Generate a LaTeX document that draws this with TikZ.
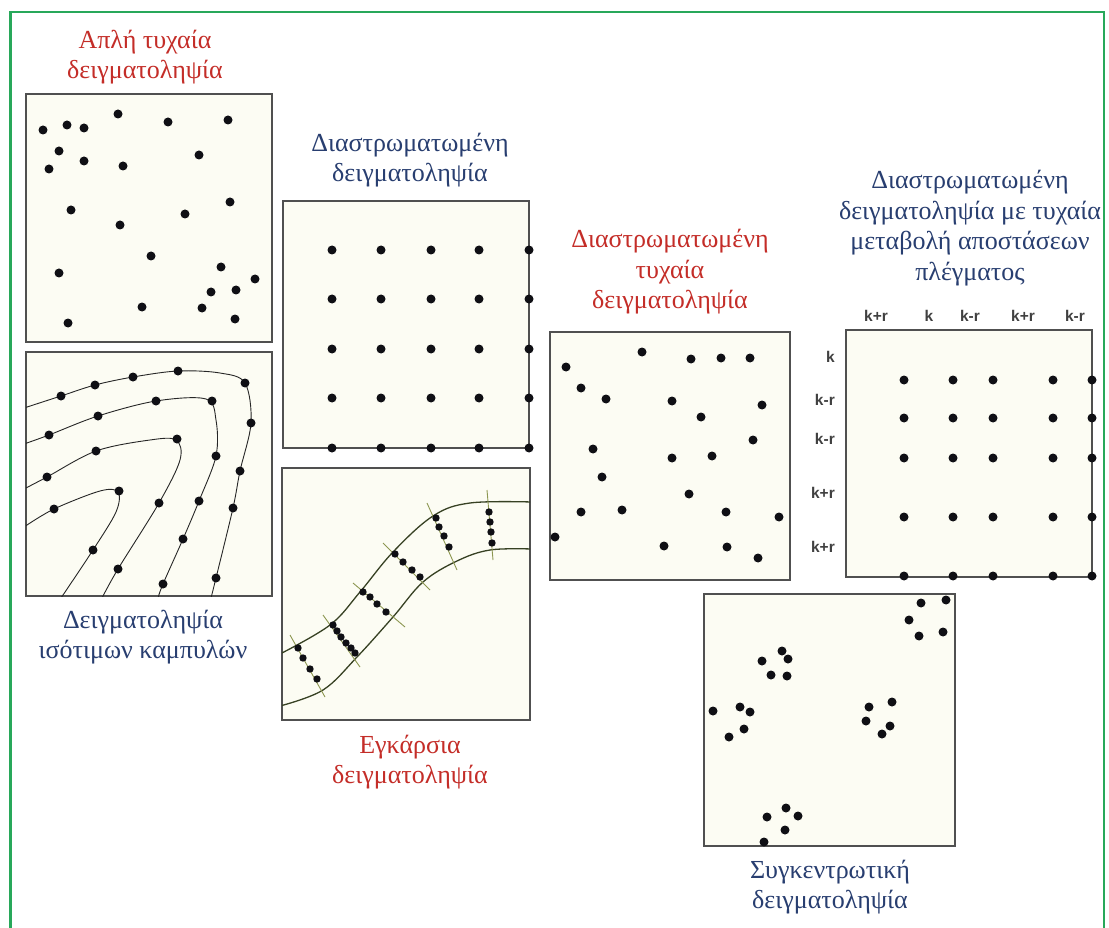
\documentclass[tikz,border=0pt]{standalone}
\usepackage{fontspec}
\setmainfont{Liberation Serif}
\newfontfamily\lblsans{Liberation Sans}
\usetikzlibrary{calc}
\definecolor{frameGreen}{RGB}{40,168,90}
\definecolor{boxGray}{RGB}{80,80,80}
\definecolor{cream}{RGB}{252,252,243}
\definecolor{titleRed}{RGB}{196,45,40}
\definecolor{titleBlue}{RGB}{40,62,112}
\definecolor{riverLine}{RGB}{55,65,35}
\definecolor{tickOlive}{RGB}{140,150,80}
\definecolor{dotBlack}{RGB}{15,15,20}
\tikzset{
  panel/.style={draw=boxGray, fill=cream, line width=1.4pt},
  titleR/.style={text=titleRed, align=center, font=\fontsize{26}{30.5}\selectfont, inner sep=0pt},
  titleB/.style={text=titleBlue, align=center, font=\fontsize{26}{30.5}\selectfont, inner sep=0pt},
  klabel/.style={text=black!75, font=\lblsans\bfseries\fontsize{15.5}{17}\selectfont, inner sep=0pt},
  contour/.style={draw=black!85, line width=0.9pt},
  river/.style={draw=riverLine, line width=1.3pt},
  tick/.style={draw=tickOlive, line width=0.9pt},
}
\newcommand{\dotr}{4.5}
\begin{document}
\begin{tikzpicture}[x=1pt,y=-1pt]
\useasboundingbox (0,0) rectangle (1109,928);
\fill[white] (0,0) rectangle (1109,928);
% green frame (open at bottom)
\draw[frameGreen, line width=2.6pt] (10.5,928) -- (10.5,12) -- (1104,12) -- (1104,928);

% ---------- Panel 1: simple random ----------
\node[titleR] (t1) at (145,57) {Απλή τυχαία\\δειγματοληψία};
\draw[panel] (26,94) rectangle (272,342);
\foreach \p in {(43,130),(67,125),(84,128),(118,114),(168,122),(228,120),
  (59,151),(49,169),(84,161),(123,166),(199,155),(71,210),(120,225),(185,214),
  (230,202),(151,256),(59,273),(221,267),(255,279),(236,290),(211,292),
  (142,307),(202,308),(235,319),(68,323)}
  \fill[dotBlack] \p circle (\dotr);

% ---------- Panel 2: contour ----------
\draw[panel] (26,352) rectangle (272,596);
\begin{scope}
\clip (26,352) rectangle (272,596);
\draw[contour] plot[smooth,tension=0.55] coordinates {(24,408) (61,396) (95,385) (133,377) (178,371) (220,373) (245,383) (251,423) (240,471) (233,508) (216,578) (211,598)};
\draw[contour] plot[smooth,tension=0.55] coordinates {(24,444) (49,435) (98,416) (156,401) (206,399) (216,420) (216,456) (199,501) (183,539) (163,584) (158,598)};
\draw[contour] plot[smooth,tension=0.55] coordinates {(24,489) (47,477) (96,451) (150,440) (176,440) (180,460) (159,503) (118,569) (102,598)};
\draw[contour] plot[smooth,tension=0.55] coordinates {(24,527) (54,509) (100,491) (118,492) (116,512) (93,550) (61,598)};
\end{scope}
\foreach \p in {(61,396),(95,385),(133,377),(178,371),(245,383),(251,423),(240,471),(233,508),(216,578),
  (49,435),(98,416),(156,401),(212,401),(216,456),(199,501),(183,539),(163,584),
  (47,477),(96,451),(177,439),(159,503),(118,569),
  (54,509),(119,491),(93,550)}
  \fill[dotBlack] \p circle (\dotr);
\node[titleB] (t2) at (143,637) {Δειγματοληψία\\ισότιμων καμπυλών};

% ---------- Panel 3: stratified systematic ----------
\node[titleB] (t3) at (410,160) {Διαστρωματωμένη\\δειγματοληψία};
\draw[panel] (283,201) rectangle (529,448);
\foreach \x in {332,381,431,479,529}
  \foreach \y in {250,299,349,398,448}
    \fill[dotBlack] (\x,\y) circle (\dotr);

% ---------- Panel 4: transect ----------
\draw[panel] (282,468) rectangle (530,720);
\begin{scope}
\clip (282,468) rectangle (530,720);
\draw[river] plot[smooth,tension=0.6] coordinates {(280,654) (330,625) (360,592) (393,552) (433,516) (470,503) (532,502)};
\draw[river] plot[smooth,tension=0.6] coordinates {(280,706) (323,690) (357,657) (393,617) (423,582) (457,561) (490,550) (532,549)};
\end{scope}
\coordinate (a1) at (290,635); \coordinate (b1) at (325,697);
\coordinate (a2) at (323,615); \coordinate (b2) at (360,667);
\coordinate (a3) at (353,583); \coordinate (b3) at (405,627);
\coordinate (a4) at (383,543); \coordinate (b4) at (430,590);
\coordinate (a5) at (427,503); \coordinate (b5) at (457,570);
\coordinate (a6) at (487,490); \coordinate (b6) at (493,560);
\foreach \i in {1,...,6} \draw[tick] (a\i) -- (b\i);
\foreach \p in {(298,648),(303,658),(310,669),(317,679),
  (333,625),(337,631),(341,637),(346,643),(351,648),(355,653),
  (363,592),(370,597),(377,604),(386,612),
  (395,554),(403,562),(412,570),(420,577),
  (436,518),(439,527),(444,536),(449,547),
  (489,512),(490,522),(491,532),(492,543)}
  \fill[dotBlack] \p circle (3.7);
\node[titleR] (t4) at (410,762) {Εγκάρσια\\δειγματοληψία};

% ---------- Panel 5: stratified random ----------
\node[titleR] (t5) at (670,272) {Διαστρωματωμένη\\τυχαία\\δειγματοληψία};
\draw[panel] (550,332) rectangle (790,580);
\foreach \p in {(642,352),(691,359),(721,358),(750,358),(566,367),(581,388),(606,399),
  (672,401),(762,405),(701,417),(753,440),(593,449),(672,458),(712,456),(602,477),
  (689,494),(581,512),(622,510),(726,512),(779,517),(555,537),(664,546),(727,547),(758,558)}
  \fill[dotBlack] \p circle (\dotr);

% ---------- Panel 6: stratified with random grid spacing ----------
\node[titleB] (t6) at (970,228) {Διαστρωματωμένη\\δειγματοληψία με τυχαία\\μεταβολή αποστάσεων\\πλέγματος};
\draw[panel] (846,330) rectangle (1092,577);
\foreach \x in {904,953,993,1053,1092}
  \foreach \y in {380,418,458,517,576}
    \fill[dotBlack] (\x,\y) circle (\dotr);
\node[klabel] (c1) at (876,316) {k+r};
\node[klabel] (c2) at (929,316) {k};
\node[klabel] (c3) at (970,316) {k-r};
\node[klabel] (c4) at (1023,316) {k+r};
\node[klabel] (c5) at (1075,316) {k-r};
\node[klabel, anchor=east] (r1) at (835,357) {k};
\node[klabel, anchor=east] (r2) at (835,400) {k-r};
\node[klabel, anchor=east] (r3) at (835,439) {k-r};
\node[klabel, anchor=east] (r4) at (835,493) {k+r};
\node[klabel, anchor=east] (r5) at (835,547) {k+r};

% ---------- Panel 7: cluster ----------
\draw[panel] (704,594) rectangle (955,846);
\foreach \p in {(921,603),(946,600),(909,620),(919,636),(943,632),
  (782,651),(788,659),(762,661),(771,675),(787,676),
  (713,711),(740,707),(750,712),(744,729),(729,737),
  (869,707),(892,702),(866,721),(890,726),(882,734),
  (786,808),(798,816),(767,817),(785,830),(764,842)}
  \fill[dotBlack] \p circle (\dotr);
\node[titleB] (t7) at (830,887) {Συγκεντρωτική\\δειγματοληψία};
\end{tikzpicture}
\end{document}
